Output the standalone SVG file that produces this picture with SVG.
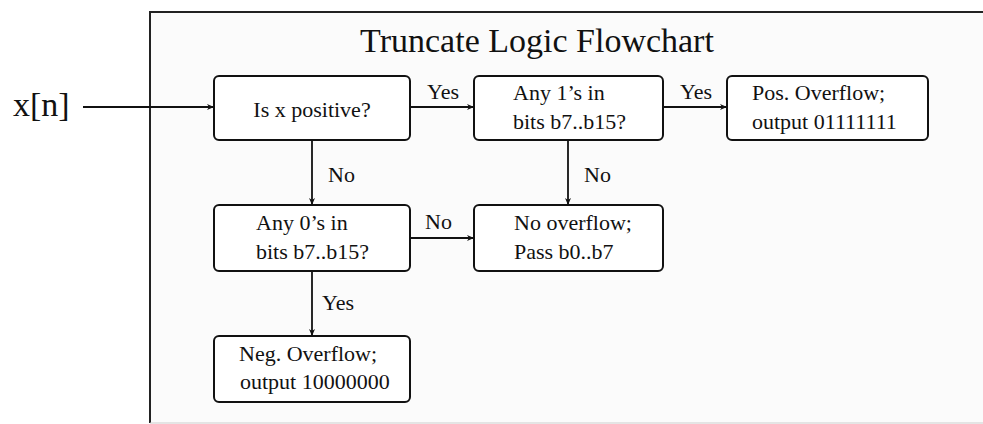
<svg xmlns="http://www.w3.org/2000/svg" width="983" height="424" viewBox="0 0 983 424">
<style>
text{font-family:"Liberation Serif","Times New Roman",serif;fill:#111;}
.t{font-size:22px;}
.box{fill:#fff;stroke:#111;stroke-width:2;}
.con{fill:none;stroke:#111;stroke-width:1.8;}
</style>
<defs>
<marker id="ah" markerWidth="8" markerHeight="8" refX="7" refY="4" orient="auto" markerUnits="userSpaceOnUse">
<path d="M0,1 L7,4 L0,7 L2,4 Z" fill="#111"/>
</marker>
</defs>
<rect x="0" y="0" width="983" height="424" fill="#fff"/>
<rect x="150" y="12" width="833" height="411" fill="#fbfbfb"/>
<g id="frame">
<path d="M983,12 H150 V423" fill="none" stroke="#222" stroke-width="2"/>
<path d="M150,423 H983" fill="none" stroke="#ccc" stroke-width="1"/>
</g>
<text x="537" y="52" font-size="34" text-anchor="middle">Truncate Logic Flowchart</text>
<text x="13" y="116" font-size="34">x[n]</text>
<g id="connectors">
<path class="con" d="M83,107 H214" marker-end="url(#ah)"/>
<path class="con" d="M410,107 H474" marker-end="url(#ah)"/>
<path class="con" d="M663,107 H727" marker-end="url(#ah)"/>
<path class="con" d="M312,140 V205" marker-end="url(#ah)"/>
<path class="con" d="M568,140 V205" marker-end="url(#ah)"/>
<path class="con" d="M410,238 H474" marker-end="url(#ah)"/>
<path class="con" d="M312,271 V336" marker-end="url(#ah)"/>
<text class="t" x="427" y="99">Yes</text>
<text class="t" x="680" y="99">Yes</text>
<text class="t" x="328" y="182">No</text>
<text class="t" x="584" y="182">No</text>
<text class="t" x="425" y="229">No</text>
<text class="t" x="322" y="310">Yes</text>
</g>
<g id="n1">
<rect class="box" x="214" y="76" width="196" height="64" rx="5"/>
<text class="t" x="312" y="117" text-anchor="middle">Is x positive?</text>
</g>
<g id="n2">
<rect class="box" x="474" y="76" width="189" height="64" rx="5"/>
<text class="t" x="513" y="100">Any 1’s in</text>
<text class="t" x="513" y="129">bits b7..b15?</text>
</g>
<g id="n3">
<rect class="box" x="727" y="76" width="201" height="64" rx="5"/>
<text class="t" x="752" y="100">Pos. Overflow;</text>
<text class="t" x="752" y="129">output 01111111</text>
</g>
<g id="n4">
<rect class="box" x="214" y="205" width="196" height="66" rx="5"/>
<text class="t" x="256" y="230">Any 0’s in</text>
<text class="t" x="256" y="259">bits b7..b15?</text>
</g>
<g id="n5">
<rect class="box" x="474" y="205" width="189" height="66" rx="5"/>
<text class="t" x="514" y="230">No overflow;</text>
<text class="t" x="514" y="259">Pass b0..b7</text>
</g>
<g id="n6">
<rect class="box" x="214" y="336" width="196" height="66" rx="5"/>
<text class="t" x="239" y="361">Neg. Overflow;</text>
<text class="t" x="240" y="389">output 10000000</text>
</g>
</svg>
